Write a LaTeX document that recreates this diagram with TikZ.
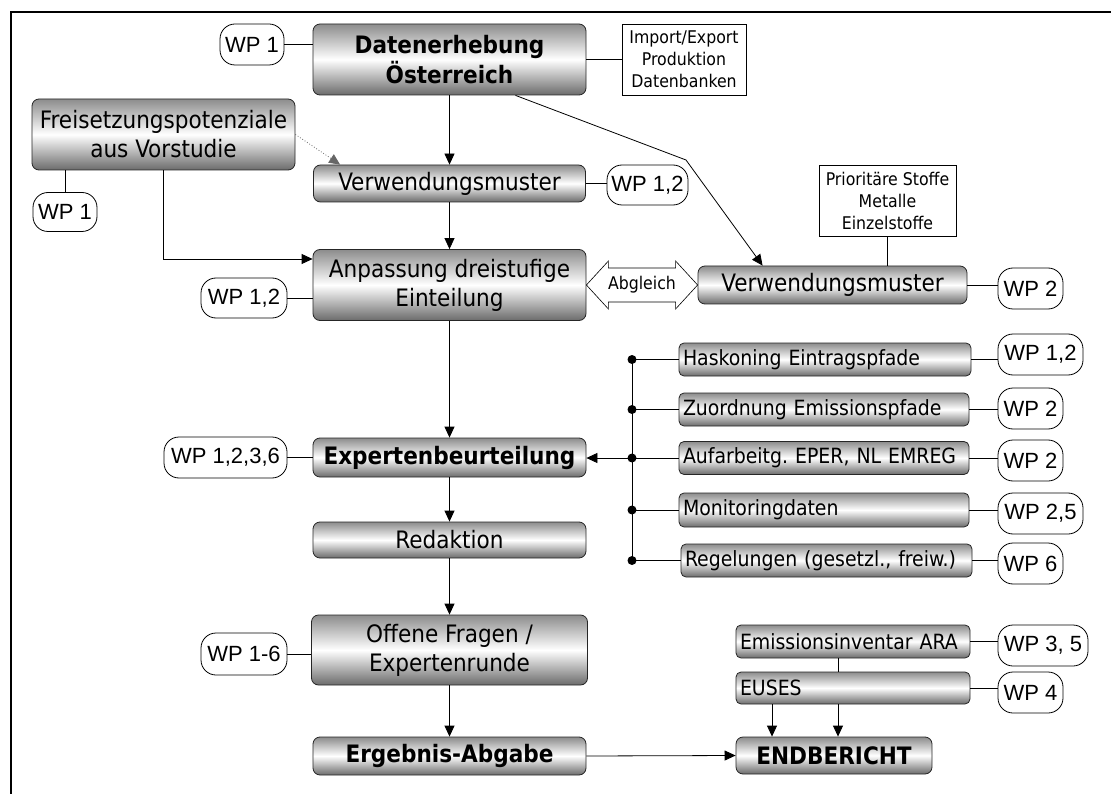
\documentclass[tikz,border=0pt]{standalone}
\usepackage{fontspec}
\setmainfont{DejaVu Sans Condensed}
\newfontfamily\wpfont{Liberation Sans}
\usetikzlibrary{calc}
\usetikzlibrary{arrows.meta}
\frenchspacing

\tikzset{
  proc/.style 2 args={draw=black!85, rounded corners=7pt, top color=black!45, bottom color=black!58, middle color=white,
    minimum width=#1, minimum height=#2, inner sep=0pt, align=center, font=\fontsize{24}{29}\selectfont},
  procbold/.style={font=\fontsize{24}{30}\selectfont\bfseries},
  item/.style 2 args={draw=black!85, rounded corners=5pt, top color=black!45, bottom color=black!58, middle color=white,
    text width=#1, minimum height=#2, inner ysep=0pt, inner xsep=4pt, align=left, font=\fontsize{21}{25}\selectfont},
  wp/.style 2 args={draw, rounded corners=15pt, fill=white, minimum width=#1, minimum height=#2, inner sep=0pt,
    font=\wpfont\fontsize{22}{25}\selectfont},
  info/.style 2 args={draw, fill=white, minimum width=#1, minimum height=#2, inner sep=0pt, align=center,
    font=\fontsize{17.5}{22}\selectfont},
}

\begin{document}
\begin{tikzpicture}[x=1pt, y=-1pt, >={Triangle[length=11pt,width=10pt]}, line width=0.8pt]
  \useasboundingbox (0,0) rectangle (1111,794);
  % Rahmen
  \draw[line width=2.2pt] (1111,12) -- (11,12) -- (11,794);

  % linke Spalte
  \node[proc={273pt}{71pt}, procbold] (dat) at (449.5,59.5) {Datenerhebung\\Österreich};
  \node[wp={64pt}{41pt}] (wpdat) at (252,44.5) {WP 1};
  \node[info={124pt}{71pt}] (imp) at (684,59.5) {Import/Export\\Produktion\\Datenbanken};
  \node[proc={263pt}{71pt}] (frei) at (163.5,134.5) {Freisetzungspotenziale\\aus Vorstudie};
  \node[wp={64pt}{39pt}] (wpfrei) at (65,212) {WP 1};
  \node[proc={272pt}{37pt}] (verw1) at (449.5,183.5) {Verwendungsmuster};
  \node[wp={81pt}{40pt}] (wpv1) at (647.5,185) {WP 1,2};
  \node[proc={273pt}{71pt}] (anp) at (449.5,285) {Anpassung dreistufige\\Einteilung};
  \node[wp={86pt}{40pt}] (wpanp) at (244,298) {WP 1,2};
  \node[proc={273pt}{39pt}, procbold] (expert) at (449.5,457.5) {Expertenbeurteilung};
  \node[wp={123pt}{41pt}] (wpe) at (225.5,457.5) {WP 1,2,3,6};
  \node[proc={273pt}{36pt}] (red) at (449.5,540) {Redaktion};
  \node[proc={276pt}{70pt}] (off) at (449.5,650) {Offene Fragen /\\Expertenrunde};
  \node[wp={86pt}{42pt}] (wpo) at (244,654) {WP 1-6};
  \node[proc={273pt}{38pt}, procbold] (erg) at (449.5,756) {Ergebnis-Abgabe};

  % rechte Spalte
  \node[proc={269pt}{38pt}] (verw2) at (832.5,285) {Verwendungsmuster};
  \node[wp={65pt}{41pt}] (wpv2) at (1030.5,288.5) {WP 2};
  \node[info={137pt}{71pt}] (prio) at (887.5,200.5) {Prioritäre Stoffe\\Metalle\\Einzelstoffe};
  \node[item={284pt}{33pt}] (hask) at (825,359.5) {Haskoning Eintragspfade};
  \node[wp={85pt}{41pt}] (wph) at (1040.5,354.5) {WP 1,2};
  \node[item={282pt}{33pt}] (zuo) at (824,409.5) {Zuordnung Emissionspfade};
  \node[wp={65pt}{41pt}] (wpz) at (1030.5,408.5) {WP 2};
  \node[item={282pt}{33pt}] (auf) at (824,458) {Aufarbeitg. EPER, NL EMREG};
  \node[wp={65pt}{41pt}] (wpa) at (1030.5,460.5) {WP 2};
  \node[item={282pt}{34pt}] (mon) at (824,510) {Monitoringdaten};
  \node[wp={85pt}{41pt}] (wpm) at (1040.5,513.5) {WP 2,5};
  \node[item={283pt}{33pt}] (reg) at (826.5,560.5) {Regelungen (gesetzl., freiw.)};
  \node[wp={65pt}{41pt}] (wpr) at (1030.5,563.5) {WP 6};
  \node[item={226pt}{33pt}] (emis) at (853,641.5) {Emissionsinventar ARA};
  \node[wp={90pt}{41pt}] (wpem) at (1043,645.5) {WP 3, 5};
  \node[item={226pt}{32pt}] (eus) at (853,688) {EUSES};
  \node[wp={65pt}{41pt}] (wpeu) at (1030.5,692.5) {WP 4};
  \node[proc={196pt}{37pt}, procbold] (endb) at (834,755.5) {ENDBERICHT};

  % Verbindungen
  \draw (wpdat.east) -- (wpdat.east -| dat.west);
  \draw (dat.east) -- (imp.west);
  \draw[->] (dat.south) -- (verw1.north);
  \draw[->, dotted, black!60] (frei.east) -- ($(verw1.north west)+(27,0)$);
  \draw (wpfrei.north) -- (wpfrei.north |- frei.south);
  \draw[->] (frei.south) |- ($(anp.west)+(0,-26)$);
  \draw (verw1.east) -- (verw1.east -| wpv1.west);
  \draw[->] (verw1.south) -- (anp.north);
  \draw (wpanp.east) -- (wpanp.east -| anp.west);
  \coordinate (knick) at (686,160);
  \draw[->] ($(dat.south)+(66,0)$) -- (knick) -- ($(verw2.north west)+(65,0)$);
  \draw (prio.south) -- (prio.south |- verw2.north);
  \draw (verw2.east) -- (verw2.east -| wpv2.west);
  % Abgleich
  \draw[fill=white, line width=0.6pt] (anp.east) -- ++(22,-24) -- ++(0,7) -- ($(verw2.west)+(-22,-17)$)
    -- ++(0,-7) -- (verw2.west) -- ++(-22,24) -- ++(0,-7) -- ($(anp.east)+(22,17)$) -- ++(0,7) -- cycle;
  \node[font=\fontsize{17.5}{20}\selectfont] (abgl) at ($(anp.east)!0.5!(verw2.west)$) {Abgleich};

  % Sammelschiene
  \coordinate (bus) at (632,0);
  \draw (bus |- hask.west) -- (bus |- reg.west);
  \foreach \b in {hask,zuo,auf,mon,reg}{
    \draw (bus |- \b.west) -- (\b.west);
    \fill (bus |- \b.west) circle (4.5pt);
  }
  \draw[->] (bus |- auf.west) -- (expert.east |- auf.west);
  \foreach \b/\w in {hask/wph,zuo/wpz,auf/wpa,mon/wpm,reg/wpr,emis/wpem,eus/wpeu}
    \draw (\b.east) -- (\b.east -| \w.west);

  \draw[->] (anp.south) -- (expert.north);
  \draw (wpe.east) -- (wpe.east -| expert.west);
  \draw[->] (expert.south) -- (red.north);
  \draw[->] (red.south) -- (off.north);
  \draw (wpo.east) -- (wpo.east -| off.west);
  \draw[->] (off.south) -- (erg.north);
  \draw[->] (erg.east) -- (endb.west);
  \draw ($(emis.south)+(-15,0)$) -- ($(eus.north)+(-15,0)$);
  \coordinate (eu1) at ($(eus.south)+(-81,0)$);
  \coordinate (eu2) at ($(eus.south)+(-15,0)$);
  \draw[->] (eu1) -- (eu1 |- endb.north);
  \draw[->] (eu2) -- (eu2 |- endb.north);
\end{tikzpicture}
\end{document}
